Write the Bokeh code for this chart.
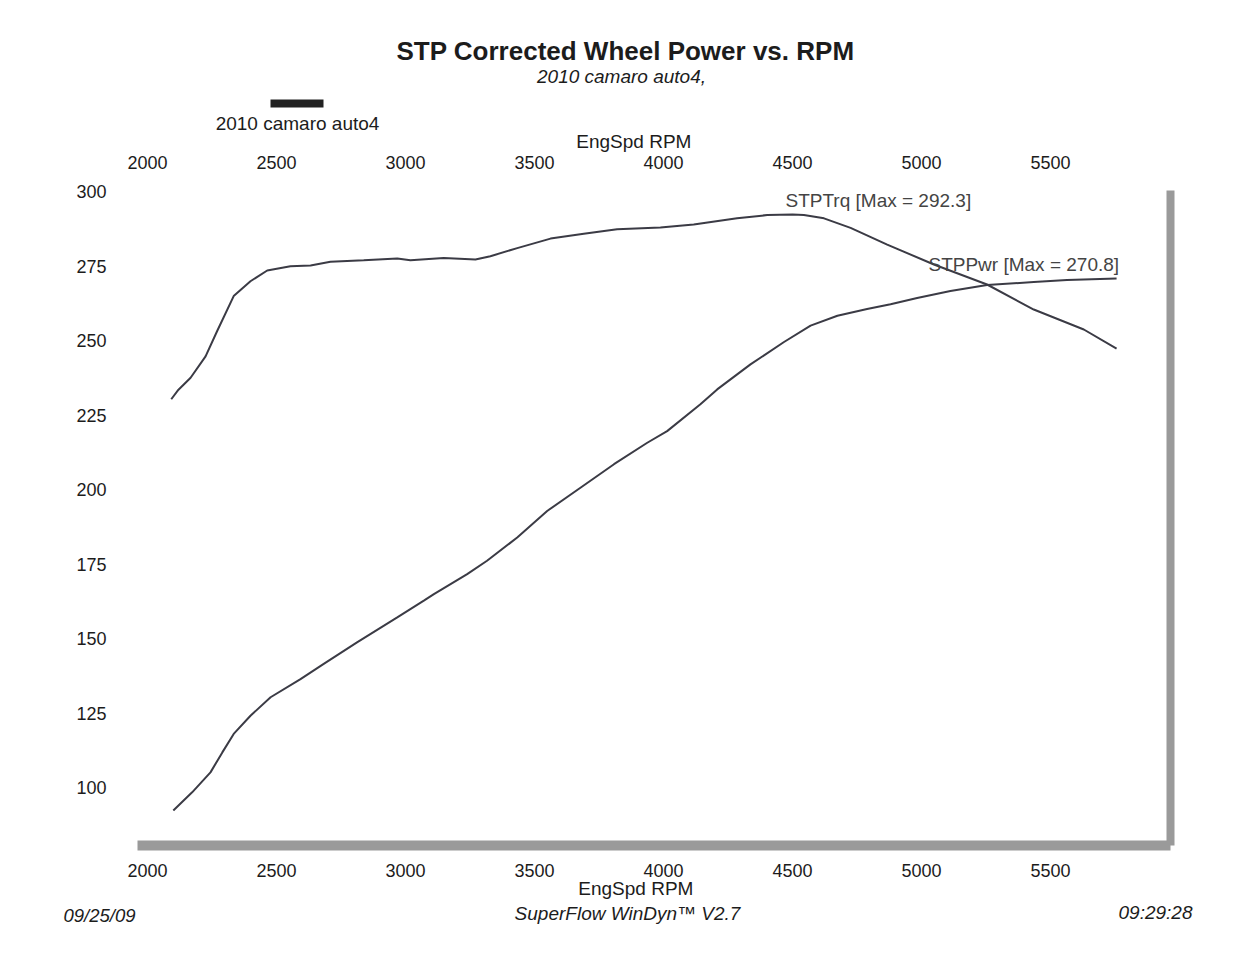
from bokeh.plotting import figure
from bokeh.models import LinearAxis, FixedTicker, Label, Range1d
from bokeh.layouts import column
from bokeh.embed import file_html
from bokeh.resources import INLINE

# ---- data read from the dyno sheet ----
trq_rpm = [2092, 2120, 2167, 2225, 2270, 2334, 2399, 2464, 2554, 2632, 2709, 2838, 2968, 3019,
           3148, 3271, 3329, 3433, 3562, 3691, 3820, 3988, 4117, 4285, 4402, 4500, 4544, 4622,
           4725, 4867, 5048, 5254, 5435, 5629, 5756]
trq_val = [230.3, 233.5, 237.5, 244.7, 253.2, 264.9, 269.9, 273.5, 274.9, 275.2, 276.4, 276.9,
           277.5, 276.9, 277.7, 277.2, 278.3, 281.0, 284.2, 285.8, 287.3, 287.9, 288.9, 291.0,
           292.1, 292.3, 292.1, 291.0, 287.8, 282.2, 275.5, 268.8, 260.4, 253.7, 247.3]

pwr_rpm = [2100, 2173, 2244, 2290, 2334, 2399, 2477, 2593, 2683, 2812, 2968, 3071, 3110, 3239,
           3316, 3433, 3549, 3678, 3808, 3937, 4014, 4143, 4208, 4337, 4467, 4570, 4674, 4789,
           4880, 4983, 5112, 5254, 5435, 5564, 5660, 5756]
pwr_val = [92.3, 98.4, 105.1, 111.8, 118.0, 124.1, 130.3, 136.4, 141.5, 148.7, 157.1, 162.7,
           164.9, 171.6, 176.1, 183.9, 192.8, 200.6, 208.5, 215.7, 219.6, 228.6, 233.6, 242.0,
           249.5, 255.0, 258.3, 260.6, 262.2, 264.3, 266.6, 268.6, 269.6, 270.3, 270.6, 270.8]

x_ticks = [2000, 2500, 3000, 3500, 4000, 4500, 5000, 5500]
y_ticks = [100, 125, 150, 175, 200, 225, 250, 275, 300]

title_text = "STP Corrected Wheel Power vs. RPM"
subtitle_text = "2010 camaro auto4,"
legend_text = "2010 camaro auto4"
axis_text = "EngSpd  RPM"
trq_label = "STPTrq [Max = 292.3]"
pwr_label = "STPPwr [Max = 270.8]"
foot_left = "09/25/09"
foot_mid = "SuperFlow WinDyn\u2122 V2.7"
foot_right = "09:29:28"

# ---- layout (page pixels) ----
W = 1240
FL, FR, FT, FB = 137, 1170, 190, 845   # plot frame edges
HEAD_FB = 153        # header frame bottom
HEAD_H = 178         # header strip 0..178 (its axis = top tick labels)
MAIN_END = 851       # main strip 178..851
FOOT_FT = 876        # footer frame top
FOOT_END = 901       # footer strip 851..901 (its axis = bottom tick labels)
NOTES_END = 941      # footnote strip 901..941
X0, X1 = 1961.2, 5965.0
Y0, Y1 = 80.56, 300.34

FONT = "Liberation Sans"
TXT = "#1c1c1c"
BAR = "#9a9a9a"
LINE = "#3b3b45"

xr = Range1d(X0, X1)


def fx(px):
    return X0 + (px - FL) * (X1 - X0) / (FR - FL)


def fy(py):
    return Y1 - (py - FT) * (Y1 - Y0) / (FB - FT)


def clean(f):
    f.title.visible = False
    f.outline_line_color = None
    f.xgrid.visible = False
    f.ygrid.visible = False


def style_axis(ax, standoff):
    ax.ticker = FixedTicker(ticks=x_ticks)
    ax.axis_line_color = None
    ax.major_tick_line_color = None
    ax.minor_tick_line_color = None
    ax.major_tick_out = 0
    ax.major_tick_in = 0
    ax.major_label_text_font = FONT
    ax.major_label_text_font_size = "18px"
    ax.major_label_text_color = TXT
    ax.major_label_standoff = standoff


def lab(f, text, x, y, size, align="center", style="normal", color=TXT):
    f.add_layout(Label(x=x, y=y, text=text, text_font=FONT,
                       text_font_size=size, text_align=align, text_baseline="middle",
                       text_font_style=style, text_color=color))


# ---- header (title block + top rpm axis) ----
head = figure(width=W, height=HEAD_H, output_backend="svg", toolbar_location=None,
              x_range=xr, y_range=Range1d(HEAD_FB, 0), y_axis_type=None,
              min_border_left=FL, min_border_right=W - FR,
              min_border_top=0, min_border_bottom=HEAD_H - HEAD_FB)
clean(head)
style_axis(head.xaxis[0], 2)
lab(head, title_text, fx(625), 50, "26px", style="bold")
lab(head, subtitle_text, fx(621), 76, "19px", style="italic")
head.quad(left=[fx(270)], right=[fx(323)], top=[99], bottom=[107],
          fill_color="#222222", line_color=None)
lab(head, legend_text, fx(297), 123, "19px")
lab(head, axis_text, fx(636), 141, "19px")

# ---- main plot ----
p = figure(width=W, height=MAIN_END - HEAD_H, output_backend="svg", toolbar_location=None,
           x_range=xr, y_range=Range1d(Y0, Y1),
           min_border_left=FL, min_border_right=W - FR,
           min_border_top=FT - HEAD_H, min_border_bottom=MAIN_END - FB)
clean(p)
xa = p.xaxis[0]
xa.ticker = FixedTicker(ticks=[])
xa.axis_line_color = BAR
xa.axis_line_width = 10
xa.major_tick_line_color = None
xa.minor_tick_line_color = None
xa.major_tick_out = 0
xa.major_tick_in = 0
xa.major_label_standoff = 0

ya = p.yaxis[0]
ya.ticker = FixedTicker(ticks=y_ticks)
ya.axis_line_color = None
ya.major_tick_line_color = None
ya.minor_tick_line_color = None
ya.major_tick_out = 0
ya.major_tick_in = 0
ya.major_label_text_font = FONT
ya.major_label_text_font_size = "18px"
ya.major_label_text_color = TXT
ya.major_label_standoff = 31

right = LinearAxis(ticker=FixedTicker(ticks=[]), axis_line_color=BAR, axis_line_width=8,
                   major_tick_line_color=None, minor_tick_line_color=None,
                   major_tick_out=0, major_tick_in=0, major_label_standoff=0)
p.add_layout(right, "right")

p.line(trq_rpm, trq_val, line_color=LINE, line_width=2)
p.line(pwr_rpm, pwr_val, line_color=LINE, line_width=2)

lab(p, trq_label, fx(785), fy(200), "19px", align="left", color="#444444")
lab(p, pwr_label, fx(928), fy(264), "19px", align="left", color="#444444")

# ---- footer (bottom rpm axis + axis title) ----
foot = figure(width=W, height=FOOT_END - FOOT_FT + (FOOT_FT - MAIN_END), output_backend="svg",
              toolbar_location=None,
              x_range=xr, y_range=Range1d(FOOT_END, FOOT_FT),
              x_axis_type=None, y_axis_type=None,
              min_border_left=FL, min_border_right=W - FR,
              min_border_top=FOOT_FT - MAIN_END, min_border_bottom=0)
clean(foot)
fax = LinearAxis()
style_axis(fax, 0)
foot.add_layout(fax, "above")
lab(foot, axis_text, fx(638), 888, "19px")

# ---- footnote strip: separate root, frame spans the full width ----
notes = figure(width=W, height=NOTES_END - FOOT_END, output_backend="svg", toolbar_location=None,
               x_range=Range1d(0, W), y_range=Range1d(NOTES_END, FOOT_END),
               x_axis_type=None, y_axis_type=None,
               min_border_left=0, min_border_right=0, min_border_top=0, min_border_bottom=0)
clean(notes)
lab(notes, foot_left, 63, 915, "18.5px", align="left", style="italic")
lab(notes, foot_mid, 627, 913, "19px", style="italic")
lab(notes, foot_right, 1192, 912, "19px", align="right", style="italic")

layout = column(head, p, foot, spacing=0)
open("out.html", "w").write(file_html([layout, notes], INLINE))
